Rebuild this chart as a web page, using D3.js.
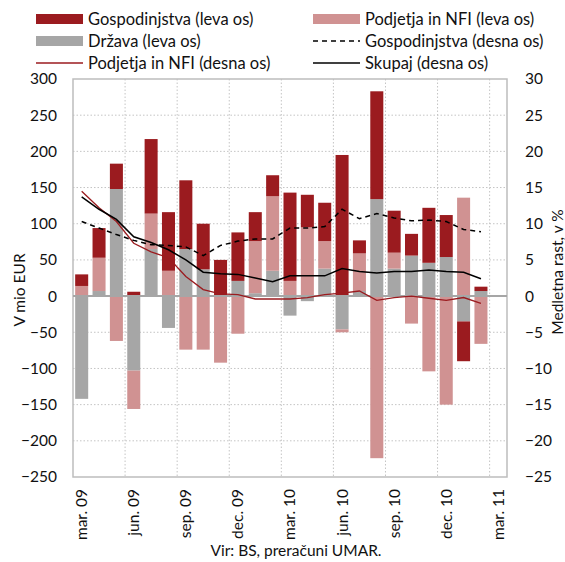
<!DOCTYPE html>
<html>
<head>
<meta charset="utf-8">
<script src="https://cdn.jsdelivr.net/npm/d3@7"></script>
<style>
  body { margin: 0; background: #fff; }
  svg text { font-family: Lato, "Noto Sans", sans-serif; fill: #111; }
</style>
</head>
<body>
<div id="chart"></div>
<script>
// mesecne kategorije (zadnja, mar. 11, je brez podatkov)
var months = ["mar. 09","apr. 09","maj. 09","jun. 09","jul. 09","avg. 09","sep. 09","okt. 09","nov. 09","dec. 09",
  "jan. 10","feb. 10","mar. 10","apr. 10","maj. 10","jun. 10","jul. 10","avg. 10","sep. 10","okt. 10","nov. 10","dec. 10",
  "jan. 11","feb. 11","mar. 11"];
var tickLabels = ["mar. 09","jun. 09","sep. 09","dec. 09","mar. 10","jun. 10","sep. 10","dec. 10","mar. 11"];
var tickMonths = ["mar. 09","jun. 09","sep. 09","dec. 09","mar. 10","jun. 10","sep. 10","dec. 10","mar. 11"];

// leva os, mio EUR
var drzava       = [-142, 7, 148, -103, 65, -44, 65, 37, 0, 21, 4, 35, -27, -7, 38, -46, 7, 134, 38, 56, 46, 54, -35, 7];
var podjetja     = [14, 46, -62, -53, 49, 35, -74, -74, -92, -52, 72, 103, 21, 95, 38, -4, 52, -224, 22, -38, -104, -150, 136, -66];
var gospodinjstva= [16, 41, 35, 6, 103, 81, 95, 63, 50, 67, 40, 29, 122, 45, 53, 195, 18, 149, 58, 30, 76, 58, -55, 6];

// desna os, medletna rast v %
var gospRast  = [10.3, 9.4, 8.5, 7.7, 7.1, 7.0, 6.8, 5.6, 7.0, 7.6, 7.9, 7.9, 9.4, 9.4, 9.6, 12.0, 10.7, 11.4, 10.8, 10.4, 10.5, 10.3, 9.2, 8.9];
var podjRast  = [14.5, 12.2, 10.3, 7.3, 6.1, 5.3, 2.7, 0.9, 0.3, 0.2, -0.4, -0.4, -0.4, -0.2, 0.2, 0.4, 0.7, -0.6, -0.2, 0.0, -0.3, -0.6, -0.2, -1.0];
var skupajRast= [13.7, 12.0, 10.6, 8.2, 7.4, 6.4, 5.0, 3.3, 3.1, 3.0, 2.5, 2.0, 2.8, 2.8, 2.8, 3.8, 3.4, 3.2, 3.4, 3.4, 3.6, 3.4, 3.3, 2.4];

var leftTicks = [-250,-200,-150,-100,-50,0,50,100,150,200,250,300];
var rightTicks = [-25,-20,-15,-10,-5,0,5,10,15,20,25,30];

var colRed = "#9b1b1f", colPink = "#d09292", colGray = "#a6a6a6";

var W = 565, H = 562;
var L = 73, R = 507, T = 79, B = 477;

var svg = d3.select("#chart").append("svg")
  .attr("width", W).attr("height", H);

var x = d3.scaleBand().domain(months).range([L, R])
  .paddingInner(0.25).paddingOuter(0.125);
var step = x.step();
var cx = function(m){ return x(m) + x.bandwidth()/2; };

var y = d3.scaleLinear().domain([-250, 300]).range([B, T]);
var y2 = d3.scaleLinear().domain([-25, 30]).range([B, T]);

// mreza
var grid = svg.append("g");
grid.selectAll(".hg").data(leftTicks.filter(function(d){ return d != 0 && d != -250 && d != 300; }))
  .enter().append("line")
  .attr("x1", L).attr("x2", R)
  .attr("y1", function(d){ return y(d); }).attr("y2", function(d){ return y(d); })
  .attr("stroke", "#c4c4c4").attr("stroke-width", 1).attr("stroke-dasharray", "1.5,2");
grid.selectAll(".vg").data(tickMonths.slice(1))
  .enter().append("line")
  .attr("x1", function(d){ return cx(d) - step/2; }).attr("x2", function(d){ return cx(d) - step/2; })
  .attr("y1", T).attr("y2", B)
  .attr("stroke", "#c4c4c4").attr("stroke-width", 1).attr("stroke-dasharray", "1.5,2");

// stolpci
var rows = months.slice(0, drzava.length).map(function(m, i){
  return {m: m, drz: drzava[i], podj: podjetja[i], gosp: gospodinjstva[i]};
});
var keys = ["drz", "podj", "gosp"];
var colors = {drz: colGray, podj: colPink, gosp: colRed};
var series = d3.stack().keys(keys).offset(d3.stackOffsetDiverging)(rows);

svg.append("g").selectAll("g").data(series).enter().append("g")
  .attr("fill", function(s){ return colors[s.key]; })
  .selectAll("rect").data(function(s){ return s; }).enter().append("rect")
  .attr("x", function(d){ return x(d.data.m); })
  .attr("width", x.bandwidth())
  .attr("y", function(d){ return y(Math.max(d[0], d[1])); })
  .attr("height", function(d){ return Math.abs(y(d[0]) - y(d[1])); });

// okvir in nicla
svg.append("rect").attr("x", L).attr("y", T).attr("width", R - L).attr("height", B - T)
  .attr("fill", "none").attr("stroke", "#bdbdbd").attr("stroke-width", 1.5);
svg.append("line").attr("x1", L).attr("x2", R).attr("y1", y(0)).attr("y2", y(0))
  .attr("stroke", colGray).attr("stroke-width", 2);

// crte
var mk = function(arr){
  return d3.line().x(function(d, i){ return cx(months[i]); }).y(function(d){ return y2(d); })(arr);
};
svg.append("path").attr("d", mk(podjRast)).attr("fill", "none").attr("stroke", colRed).attr("stroke-width", 1.3);
svg.append("path").attr("d", mk(gospRast)).attr("fill", "none").attr("stroke", "#000").attr("stroke-width", 1.5).attr("stroke-dasharray", "5,4");
svg.append("path").attr("d", mk(skupajRast)).attr("fill", "none").attr("stroke", "#000").attr("stroke-width", 1.5);

// osi
var axL = svg.append("g").attr("transform", "translate(" + L + ",0)")
  .call(d3.axisLeft(y).tickValues(leftTicks).tickSize(0).tickPadding(16));
var axR = svg.append("g").attr("transform", "translate(" + R + ",0)")
  .call(d3.axisRight(y2).tickValues(rightTicks).tickSize(0).tickPadding(18));
[axL, axR].forEach(function(a){
  a.select(".domain").remove();
  a.selectAll("text").style("font-size", "15.5px").attr("fill", "#111");
});

var axB = svg.append("g").attr("transform", "translate(0," + B + ")")
  .call(d3.axisBottom(x).tickValues(tickMonths).tickSize(0)
    .tickFormat(function(d, i){ return tickLabels[i]; }));
axB.select(".domain").remove();
axB.selectAll("text")
  .style("font-size", "15.5px")
  .attr("text-anchor", "end")
  .attr("transform", "rotate(-90)")
  .attr("x", -12).attr("y", 0).attr("dy", "0.35em");

// naslovi osi
svg.append("text").attr("transform", "translate(25,290) rotate(-90)")
  .attr("text-anchor", "middle").style("font-size", "15.5px").text("V mio EUR");
svg.append("text").attr("transform", "translate(563,272) rotate(-90)")
  .attr("text-anchor", "middle").style("font-size", "15.5px").text("Medletna rast, v %");
svg.append("text").attr("x", 296).attr("y", 556)
  .attr("text-anchor", "middle").style("font-size", "15.5px").text("Vir: BS, preračuni UMAR.");

// legenda
var legend = [
  {t: "Gospodinjstva (leva os)", type: "rect", c: colRed, x: 36, y: 19},
  {t: "Država (leva os)", type: "rect", c: colGray, x: 36, y: 41},
  {t: "Podjetja in NFI (desna os)", type: "line", c: colRed, x: 36, y: 63},
  {t: "Podjetja in NFI (leva os)", type: "rect", c: colPink, x: 313, y: 19},
  {t: "Gospodinjstva (desna os)", type: "dash", c: "#000", x: 313, y: 41},
  {t: "Skupaj (desna os)", type: "line", c: "#000", x: 313, y: 63}
];
var lg = svg.append("g").selectAll("g").data(legend).enter().append("g")
  .attr("transform", function(d){ return "translate(" + d.x + "," + d.y + ")"; });
lg.filter(function(d){ return d.type == "rect"; }).append("rect")
  .attr("x", 0).attr("y", -5).attr("width", 47).attr("height", 10)
  .attr("fill", function(d){ return d.c; });
lg.filter(function(d){ return d.type != "rect"; }).append("line")
  .attr("x1", 0).attr("x2", 47).attr("y1", 0).attr("y2", 0)
  .attr("stroke", function(d){ return d.c; })
  .attr("stroke-width", function(d){ return d.c == "#000" ? 1.5 : 1.3; })
  .attr("stroke-dasharray", function(d){ return d.type == "dash" ? "5,4" : null; });
lg.append("text").attr("x", 52).attr("y", 0).attr("dy", "0.35em")
  .style("font-size", "16.5px").text(function(d){ return d.t; });
</script>
</body>
</html>
